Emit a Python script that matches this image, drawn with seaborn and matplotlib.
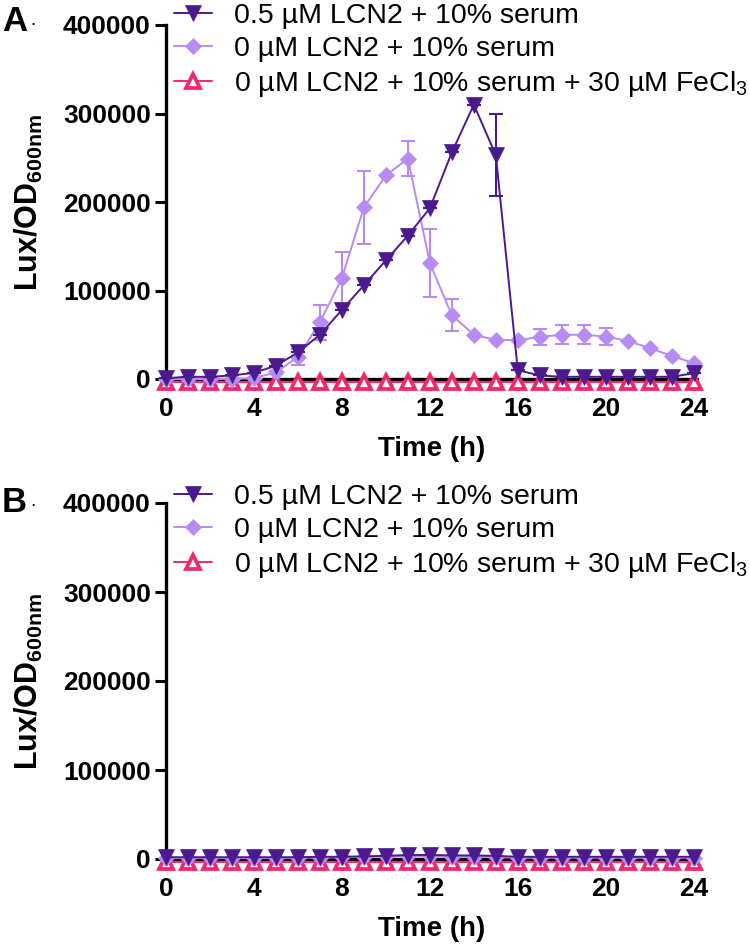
import numpy as np
import pandas as pd
import matplotlib
matplotlib.use("Agg")
import matplotlib.pyplot as plt
import seaborn as sns

# ---------------- data ----------------
time_h = list(range(25))

labels = ["0.5 µM LCN2 + 10% serum",
          "0 µM LCN2 + 10% serum",
          "0 µM LCN2 + 10% serum + 30 µM FeCl$_3$"]

# Panel A
a_lcn2 = [1000, 2500, 2500, 4000, 7000, 15000, 30000, 50000, 78000, 106000, 134000,
          162000, 193000, 256000, 310000, 253000, 10000, 4000, 2500, 2500, 2500,
          2500, 2500, 2500, 6500]
a_lcn2_err = [0, 0, 0, 0, 0, 0, 0, 0, 0, 0, 0, 0, 0, 0, 0, 46000, 0, 0, 0, 0, 0,
              0, 0, 0, 0]
a_serum = [0, 0, 0, 0, 1000, 7500, 25000, 64000, 114000, 194000, 230000, 249000,
           131000, 72000, 50000, 44000, 44000, 47500, 50000, 50000, 48000, 43000,
           35000, 26000, 18000]
a_serum_err = [0, 0, 0, 0, 0, 2000, 9000, 20000, 30000, 41000, 0, 20000, 38000,
               18000, 0, 0, 0, 9500, 10500, 11000, 9500, 0, 0, 0, 0]
a_fe = [-3500] * 25

# Panel B
b_lcn2 = [2000, 2000, 2000, 2000, 2000, 2000, 2000, 2500, 2500, 3000, 3500, 4500,
          4500, 4000, 4000, 3500, 2500, 2500, 2500, 2500, 2500, 2500, 2500, 2500,
          2500]
b_serum = [1000, 1000, 1000, 1000, 1000, 1000, 1500, 1500, 2000, 2500, 3000, 3000,
           3000, 2500, 2500, 2000, 1500, 1500, 1500, 1500, 1500, 1500, 1500, 1500,
           1500]
b_fe = [-3500] * 25

y_ticks = [0, 100000, 200000, 300000, 400000]
x_ticks = [0, 4, 8, 12, 16, 20, 24]

c_dark = "#4B1A8C"
c_light = "#B68CF4"
c_pink = "#F2286E"

# ---------------- style ----------------
sns.set_theme(style="ticks")
plt.rcParams["font.family"] = ["Liberation Sans", "DejaVu Sans"]
plt.rcParams["mathtext.fontset"] = "custom"
plt.rcParams["mathtext.rm"] = "Liberation Sans"
plt.rcParams["mathtext.it"] = "Liberation Sans:italic"
plt.rcParams["mathtext.bf"] = "Liberation Sans:bold"
for k in ["text.color", "axes.labelcolor", "xtick.color", "ytick.color",
          "axes.edgecolor", "xtick.labelcolor", "ytick.labelcolor"]:
    plt.rcParams[k] = "black"

W, H = 750, 949
fig = plt.figure(figsize=(W / 100, H / 100), dpi=100)


def px_ax(left, top, right, bottom):
    return fig.add_axes([left / W, 1 - bottom / H, (right - left) / W, (bottom - top) / H])


def draw_panel(ax, d_lcn2, d_serum, d_fe, e_lcn2=None, e_serum=None, letter="A", ytop_px=0):
    df = pd.DataFrame({"t": time_h, "lcn2": d_lcn2, "serum": d_serum, "fe": d_fe})
    lw = 1.4
    # errorbars
    if e_serum is not None:
        ax.errorbar(time_h, d_serum, yerr=e_serum, fmt="none", ecolor=c_light,
                    elinewidth=1.5, capsize=5, capthick=1.5, clip_on=False, zorder=2)
    if e_lcn2 is not None:
        ax.errorbar(time_h, d_lcn2, yerr=e_lcn2, fmt="none", ecolor=c_dark,
                    elinewidth=1.5, capsize=5, capthick=1.5, clip_on=False, zorder=4)
    sns.lineplot(data=df, x="t", y="fe", ax=ax, color=c_pink, lw=lw, marker="^",
                 markersize=10.5, markerfacecolor="white", markeredgecolor=c_pink,
                 markeredgewidth=2.7, clip_on=False, zorder=3, label=labels[2])
    sns.lineplot(data=df, x="t", y="serum", ax=ax, color=c_light, lw=lw, marker="D",
                 markersize=8, markeredgecolor=c_light, markeredgewidth=0.5,
                 clip_on=False, zorder=3.5, label=labels[1])
    sns.lineplot(data=df, x="t", y="lcn2", ax=ax, color=c_dark, lw=lw, marker="v",
                 markersize=11, markeredgecolor=c_dark, markeredgewidth=0.5,
                 clip_on=False, zorder=5, label=labels[0])

    ax.set_xlim(0, 24.15)
    ax.set_ylim(0, 400000)
    ax.set_xticks(x_ticks)
    ax.set_yticks(y_ticks)
    ax.set_yticklabels([str(v) for v in y_ticks])
    for s in ["top", "right"]:
        ax.spines[s].set_visible(False)
    for s in ["left", "bottom"]:
        ax.spines[s].set_linewidth(2.4)
        ax.spines[s].set_color("black")
    ax.tick_params(axis="both", length=8, width=2.2, color="black",
                   labelcolor="black", labelsize=19)
    ax.tick_params(axis="x", pad=5)
    ax.tick_params(axis="y", pad=3)
    for lab in ax.get_xticklabels() + ax.get_yticklabels():
        lab.set_fontweight("bold")
    ax.set_xlabel("Time (h)", fontsize=20, fontweight="bold", labelpad=11, color="black")
    ax.set_ylabel(r"Lux/OD$_{\mathbf{600nm}}$", fontsize=22, fontweight="bold",
                  labelpad=13, color="black")
    ax.patch.set_alpha(0)

    handles, labs = ax.get_legend_handles_labels()
    order = [labs.index(l) for l in labels]
    ax.legend([handles[i] for i in order], [labs[i] for i in order],
              loc="upper left", bbox_to_anchor=(174 / W, 1 - (ytop_px + 3) / H),
              bbox_transform=fig.transFigure, frameon=False, fontsize=20.5,
              handlelength=1.35, handletextpad=0.75, labelspacing=0.24,
              borderpad=0, borderaxespad=0, labelcolor="black")

    fig.text(2 / W, 1 - (ytop_px + 5) / H, letter, fontsize=25, fontweight="bold",
             va="top", ha="left", color="black")
    fig.text(30 / W, 1 - (ytop_px + 12) / H, ".", fontsize=14, va="top", ha="left",
             color="black")


axA = px_ax(166, 25, 697, 379)
draw_panel(axA, a_lcn2, a_serum, a_fe, a_lcn2_err, a_serum_err, "A", 0)

axB = px_ax(166, 503, 697, 859)
draw_panel(axB, b_lcn2, b_serum, b_fe, None, None, "B", 481)

fig.savefig("out.png", dpi=100)
